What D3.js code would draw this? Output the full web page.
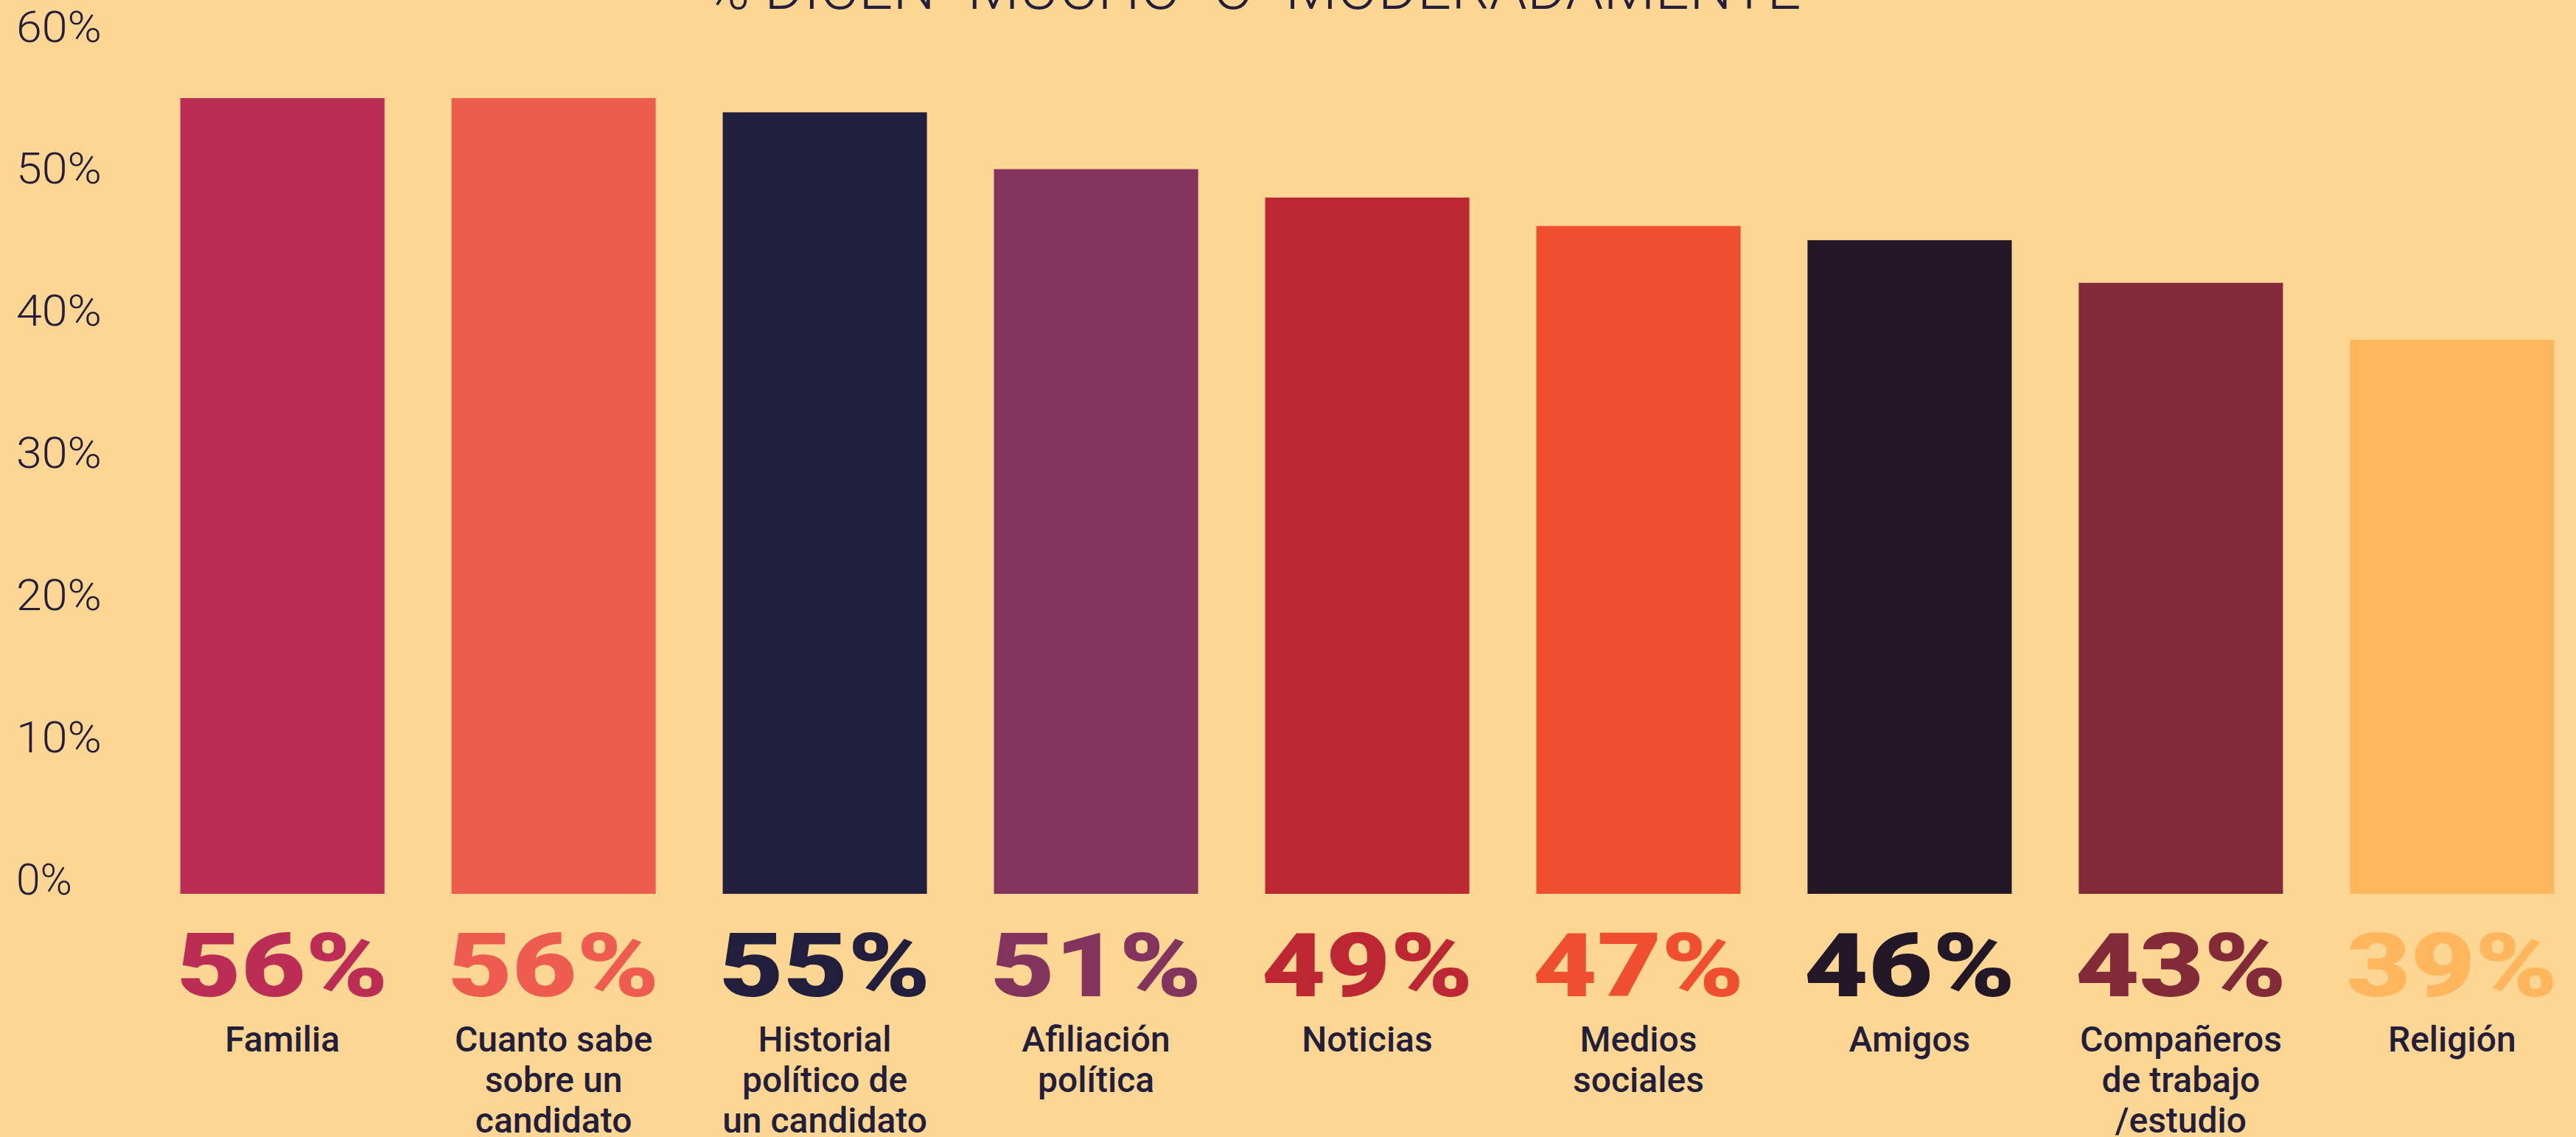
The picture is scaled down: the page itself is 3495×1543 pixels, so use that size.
<!DOCTYPE html>
<meta charset="utf-8">
<style>
  body { margin: 0; background: #FED693; }
  svg { display: block; background: #FED693; }
</style>
<svg width="3495" height="1543"></svg>

<script src="https://d3js.org/d3.v7.min.js"></script>

<script>

	var categories = [
		["Familia"],
		["Cuanto sabe", "sobre un", "candidato"],
		["Historial", "político de", "un candidato"],
		["Afiliación", "política"],
		["Noticias"],
		["Medios", "sociales"],
		["Amigos"],
		["Compañeros", "de trabajo", "/estudio"],
		["Religión"]
	];
	var values = [56, 56, 55, 51, 49, 47, 46, 43, 39];
	var colors = ["#BB2D55", "#EE5B4F", "#221E3D", "#83345C", "#BD2633", "#EF4E2F", "#231827", "#822A37", "#FFB65C"];
	var yTicks = [0, 10, 20, 30, 40, 50, 60];
	var title = "% DICEN \"MUCHO\" O \"MODERADAMENTE\"";

	var ink = "#221E3B";

	var svg = d3.select("svg"),
		width = +svg.attr("width"),
		height = +svg.attr("height");

	var keys = categories.map(function(d) { return d.join(" "); });

	var x = d3.scaleBand()
		.domain(keys)
		.range([199, 3511])
		.paddingInner(0.247)
		.paddingOuter(0.124);

	var y = d3.scaleLinear()
		.domain([0, 60])
		.range([1213, 56]);

	// TITLE (cut off at the top edge)
	svg.append("text")
		.attr("x", 1712)
		.attr("y", 12)
		.attr("text-anchor", "middle")
		.attr("textLength", 1510)
		.attr("lengthAdjust", "spacingAndGlyphs")
		.style("font-family", "Roboto")
		.style("font-weight", 300)
		.style("font-size", "80px")
		.style("fill", ink)
		.text(title);

	// Y AXIS LABELS
	var yAxis = svg.append("g")
		.attr("class", "axis axis--y")
		.attr("transform", "translate(22,0)")
		.call(d3.axisLeft(y).tickValues(yTicks).tickSize(0).tickFormat(function(d) { return d + "%"; }));

	yAxis.select(".domain").remove();
	yAxis.selectAll("text")
		.attr("x", 0)
		.attr("dy", null)
		.attr("text-anchor", "start")
		.attr("textLength", 116)
		.attr("lengthAdjust", "spacingAndGlyphs")
		.style("font-family", "Roboto")
		.style("font-weight", 300)
		.style("font-size", "59px")
		.style("fill", ink);

	// the 0% label is narrower
	yAxis.selectAll("text").filter(function(d) { return d === 0; })
		.attr("textLength", 76);

	// BARS
	svg.selectAll(".bar")
		.data(values)
		.enter().append("rect")
		.attr("class", "bar")
		.attr("x", function(d, i) { return x(keys[i]); })
		.attr("y", function(d) { return y(d); })
		.attr("width", x.bandwidth())
		.attr("height", function(d) { return y(0) - y(d); })
		.style("fill", function(d, i) { return colors[i]; });

	// VALUE LABELS
	svg.selectAll(".value")
		.data(values)
		.enter().append("text")
		.attr("class", "value")
		.attr("x", function(d, i) { return x(keys[i]) + x.bandwidth() / 2; })
		.attr("y", 1352)
		.attr("text-anchor", "middle")
		.attr("textLength", x.bandwidth() * 1.035)
		.attr("lengthAdjust", "spacingAndGlyphs")
		.style("font-family", "Roboto")
		.style("font-weight", 900)
		.style("font-size", "120px")
		.style("fill", function(d, i) { return colors[i]; })
		.text(function(d) { return d + "%"; });

	// CATEGORY LABELS
	var cat = svg.selectAll(".cat")
		.data(categories)
		.enter().append("text")
		.attr("class", "cat")
		.attr("text-anchor", "middle")
		.style("font-family", "Roboto")
		.style("font-weight", 500)
		.style("font-size", "48px")
		.style("fill", ink);

	cat.selectAll("tspan")
		.data(function(d, i) { return d.map(function(line) { return {line: line, i: i}; }); })
		.enter().append("tspan")
		.attr("x", function(d) { return x(keys[d.i]) + x.bandwidth() / 2; })
		.attr("y", function(d, j) { return 1427 + j * 55; })
		.text(function(d) { return d.line; });

</script>
